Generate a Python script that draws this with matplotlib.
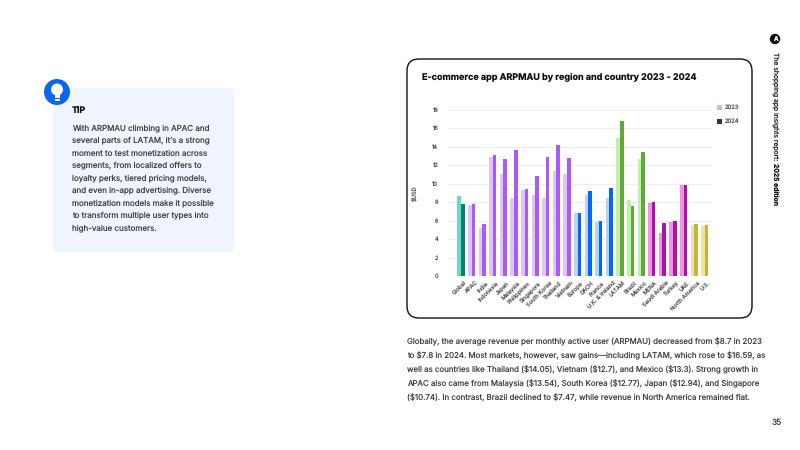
import numpy as np
import matplotlib
matplotlib.use("Agg")
import matplotlib.pyplot as plt
from matplotlib.patches import FancyBboxPatch, Circle, Rectangle
from matplotlib.transforms import ScaledTranslation

plt.rcParams['font.family'] = ['Inter', 'DejaVu Sans']
plt.rcParams['text.parse_math'] = False
plt.rcParams['text.hinting'] = 'no_hinting'

# ARPMAU in USD per region and country
regions = ['Global', 'APAC', 'India', 'Indonesia', 'Japan', 'Malaysia', 'Philippines',
           'Singapore', 'South Korea', 'Thailand', 'Vietnam', 'Europe', 'DACH', 'France',
           'U.K. & Ireland', 'LATAM', 'Brazil', 'Mexico', 'MENA', 'Saudi Arabia', 'Turkey',
           'UAE', 'North America', 'U.S.']
arpmau_2023 = [8.7, 7.7, 5.2, 12.9, 11.05, 8.4, 9.35, 8.8, 8.4, 11.3, 11.0, 6.85,
               8.75, 5.8, 8.4, 14.9, 8.25, 12.6, 7.85, 4.65, 5.8, 9.8, 5.5, 5.4]
arpmau_2024 = [7.8, 7.8, 5.6, 13.05, 12.7, 13.6, 9.45, 10.8, 12.9, 14.2, 12.75, 6.85,
               9.15, 5.9, 9.55, 16.75, 7.55, 13.45, 8.05, 5.7, 6.0, 9.85, 5.6, 5.55]
colors_2023 = ['#62DCC3'] + ['#DFC6F6'] * 10 + ['#B6D4F8'] * 4 + ['#BDF2A8'] * 3 \
    + ['#F78FEA'] * 4 + ['#F3E3A2'] * 2
colors_2024 = ['#0E7C72'] + ['#A95BF8'] * 10 + ['#0467F6'] * 4 + ['#64A53D'] * 3 \
    + ['#A2199B'] * 4 + ['#C5B342'] * 2
y_ticks = [0, 2, 4, 6, 8, 10, 12, 14, 16, 18]

tip_lines = ["With ARPMAU climbing in APAC and",
             "several parts of LATAM, it\u2019s a strong",
             "moment to test monetization across",
             "segments, from localized offers to",
             "loyalty perks, tiered pricing models,",
             "and even in-app advertising. Diverse",
             "monetization models make it possible",
             "to transform multiple user types into",
             "high-value customers."]
body_lines = ["Globally, the average revenue per monthly active user (ARPMAU) decreased from $8.7 in 2023",
              "to $7.8 in 2024. Most markets, however, saw gains\u2014including LATAM, which rose to $16.59, as",
              "well as countries like Thailand ($14.05), Vietnam ($12.7), and Mexico ($13.3). Strong growth in",
              "APAC also came from Malaysia ($13.54), South Korea ($12.77), Japan ($12.94), and Singapore",
              "($10.74). In contrast, Brazil declined to $7.47, while revenue in North America remained flat."]

W, H = 800, 450
fig = plt.figure(figsize=(8, 4.5), dpi=100, facecolor='white')

# page layer in pixel coordinates, y pointing down
page = fig.add_axes([0, 0, 1, 1])
page.set_xlim(0, W)
page.set_ylim(H, 0)
page.axis('off')

# tip card
page.add_patch(FancyBboxPatch((59, 94), 169, 152, boxstyle="round,pad=6,rounding_size=6",
                              fc='#EFF4FE', ec='none'))
page.add_patch(Circle((57, 92), 13, fc='#0A66F0', ec='none'))
page.add_patch(Circle((57, 89.5), 6, fc='white', ec='none'))
page.add_patch(Rectangle((54.5, 93), 5, 5, fc='white', ec='none'))
page.add_patch(Rectangle((54.5, 99), 5, 1.5, fc='white', ec='none'))
page.text(72, 111, "TIP", fontsize=6.4, fontweight='bold', color='#111111', va='center')
for i, line in enumerate(tip_lines):
    page.text(72, 128.5 + i * 12.5, line, fontsize=5.75, color='#444444', va='center')

# chart card
page.add_patch(FancyBboxPatch((419, 71), 321, 235, boxstyle="round,pad=12,rounding_size=12",
                              fc='white', ec='#111111', lw=1.0))
page.text(422, 77, "E-commerce app ARPMAU by region and country 2023 - 2024",
          fontsize=6.5, fontweight='bold', color='#111111', va='center')

# legend
page.add_patch(Rectangle((717, 105), 5, 5, fc='#B8C3E2', ec='none'))
page.add_patch(Rectangle((717, 118.5), 5, 5, fc='#2C3066', ec='none'))
page.text(725, 107.5, "2023", fontsize=4.2, color='#555555', va='center')
page.text(725, 121, "2024", fontsize=4.2, color='#555555', va='center')

# body text
for i, line in enumerate(body_lines):
    page.text(407, 342 + i * 14, line, fontsize=5.7, color='#444444', va='center')

# side header and page number
page.add_patch(Circle((775, 39), 5.2, fc='#111111', ec='none'))
page.text(775, 39, "A", fontsize=4.5, fontweight='bold', color='white', ha='center', va='center')
page.text(775, 52, "The shopping app insights report:", fontsize=4.9, color='#222222',
          rotation=270, ha='center', va='top')
page.text(775, 163, "2025 edition", fontsize=4.9, fontweight='bold', color='#111111',
          rotation=270, ha='center', va='top')
page.text(777, 423, "35", fontsize=6, color='#444444', ha='center', va='center')

# bar chart axes placed at pixel bounds
left, right, top, bottom = 448, 712, 109.5, 276
ax = fig.add_axes([left / W, 1 - bottom / H, (right - left) / W, (bottom - top) / H])
ax.patch.set_alpha(0)

x = np.arange(len(regions))
bar_w = 0.34
ax.bar(x - bar_w / 2, arpmau_2023, bar_w, color=colors_2023, zorder=3)
ax.bar(x + bar_w / 2, arpmau_2024, bar_w, color=colors_2024, zorder=3)

ax.set_xlim(-1.23, 23.68)
ax.set_ylim(0, 18)
ax.set_yticks(y_ticks)
ax.set_xticks(x)
ax.set_xticklabels(regions, rotation=45, ha='right', rotation_mode='anchor')
ax.tick_params(axis='both', length=0, labelsize=4.1, labelcolor='#555555')
ax.tick_params(axis='x', pad=3)
ax.tick_params(axis='y', pad=7)
# nudge the slanted labels so they end just right of each bar pair
nudge = ScaledTranslation(3 / 100, 0, fig.dpi_scale_trans)
for label in ax.get_xticklabels():
    label.set_transform(label.get_transform() + nudge)
ax.grid(axis='y', color='#EDEDF3', lw=0.8, zorder=0)
ax.set_axisbelow(True)
for spine in ax.spines.values():
    spine.set_visible(False)
ax.set_ylabel("$USD", fontsize=4.1, color='#555555', labelpad=11)

fig.savefig('out.png', dpi=100)
